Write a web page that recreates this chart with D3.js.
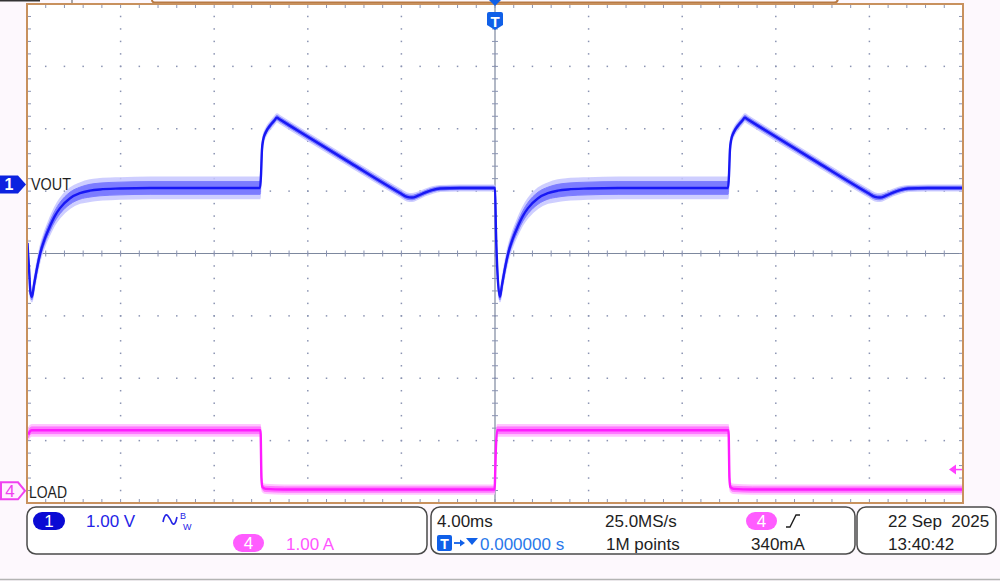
<!DOCTYPE html>
<html><head><meta charset="utf-8">
<script src="https://cdn.jsdelivr.net/npm/d3@7"></script>
<style>
html,body{margin:0;padding:0;background:#fdf8fd;}
svg{display:block;}
text{font-family:"Liberation Sans",Arial,sans-serif;}
</style></head>
<body>
<svg id="c" width="1000" height="581"></svg>
<script>
// ---------- DATA ----------
// time in ms (4 ms/div, trigger at 0)
const voutTime = [-19.98,-19.91,-19.85,-19.79,-19.70,-19.57,-19.44,-19.23,-19.02,-18.80,-18.59,-18.16,-17.74,-17.31,-16.88,-16.03,-14.74,-12.61,-10.04,
  -10.00,-9.96,-9.91,-9.79,-9.62,-9.44,-9.32,-9.19,-8.33,-6.20,-4.06,-3.76,-3.55,-3.29,-2.99,-2.69,-2.35,-1.50,-0.09,
  0.00,0.04,0.11,0.21,0.30,0.43,0.56,0.77,0.98,1.20,1.41,1.84,2.26,2.69,3.12,3.97,5.26,7.39,9.96,
  10.00,10.04,10.09,10.21,10.38,10.56,10.68,10.81,11.67,13.80,15.94,16.24,16.45,16.71,17.01,17.31,17.65,18.50,20.00];
// VOUT in volts relative to the CH1 reference marker (1.00 V/div)
const voutVolts = [-0.94,-1.37,-1.74,-1.80,-1.61,-1.34,-1.11,-0.86,-0.67,-0.50,-0.38,-0.22,-0.14,-0.10,-0.08,-0.065,-0.056,-0.056,-0.056,
  0.15,0.55,0.71,0.84,0.94,1.02,1.07,1.04,0.84,0.35,-0.136,-0.20,-0.21,-0.18,-0.13,-0.09,-0.064,-0.056,-0.056,
  -0.06,-0.73,-1.45,-1.80,-1.61,-1.34,-1.11,-0.86,-0.67,-0.50,-0.38,-0.22,-0.14,-0.10,-0.08,-0.065,-0.056,-0.056,-0.056,
  0.15,0.55,0.71,0.84,0.94,1.02,1.07,1.04,0.84,0.35,-0.136,-0.20,-0.21,-0.18,-0.13,-0.09,-0.064,-0.056,-0.056];
// half-width of the noise envelope (V)
const voutNoise = [0.06,0.07,0.08,0.08,0.09,0.10,0.11,0.12,0.13,0.14,0.15,0.16,0.16,0.17,0.17,0.17,0.17,0.17,0.17,
  0.06,0.06,0.06,0.06,0.06,0.06,0.06,0.06,0.06,0.06,0.06,0.06,0.06,0.055,0.05,0.05,0.045,0.045,0.045,
  0.045,0.06,0.07,0.08,0.09,0.10,0.11,0.12,0.13,0.14,0.15,0.16,0.16,0.17,0.17,0.17,0.17,0.17,0.17,
  0.06,0.06,0.06,0.06,0.06,0.06,0.06,0.06,0.06,0.06,0.06,0.06,0.06,0.055,0.05,0.05,0.045,0.045,0.045];

const loadTime = [-19.94,-19.88,-19.80,-10.02,-9.98,-9.94,-9.80,-9.00,-0.02,0.04,0.09,0.20,9.98,10.02,10.06,10.20,11.00,20.00];
const loadAmps = [0.90,0.95,0.97,0.97,0.20,0.06,0.03,0.02,0.02,0.70,0.97,0.97,0.97,0.20,0.06,0.03,0.02,0.02];
const loadNoise = [0.08,0.09,0.09,0.09,0.06,0.07,0.07,0.07,0.07,0.06,0.09,0.09,0.09,0.06,0.07,0.07,0.07,0.07];

const ch1Label = "VOUT", ch4Label = "LOAD";
const ch1Scale = "1.00 V", ch4Scale = "1.00 A";
const timeDiv = "4.00ms", sampleRate = "25.0MS/s", recordLen = "1M points";
const trigPos = "0.000000 s", trigLevel = "340mA";
const dateText = "22 Sep  2025", timeText = "13:40:42";
const ch1OffsetDiv = 1.107, ch4OffsetDiv = -3.804, trigLevelA = 0.34;

// ---------- LAYOUT ----------
const svg = d3.select("#c");
const L = 27, R = 963, T = 4, B = 503;
const x = d3.scaleLinear().domain([-20, 20]).range([L, R]);
const yDiv = d3.scaleLinear().domain([-4, 4]).range([B, T]);
const y1 = v => yDiv(v / 1.0 + ch1OffsetDiv);
const y4 = a => yDiv(a / 1.0 + ch4OffsetDiv);

// top cut-off strip
svg.append("path").attr("d","M152,-6 V0 Q152,2.5 156,2.5 H834 Q838,2.5 838,-2 V-6").attr("fill","none").attr("stroke","#b87a44").attr("stroke-width",2);
svg.append("line").attr("x1",72).attr("x2",72).attr("y1",0).attr("y2",3).attr("stroke","#555");
svg.append("rect").attr("x",0).attr("y",0).attr("width",40).attr("height",1.5).attr("fill","#333");

// plot background
svg.append("rect").attr("x",L).attr("y",T).attr("width",R-L).attr("height",B-T).attr("fill","#ffffff");

const g = svg.append("g");
const gridCol = "#8a93b2";
const divW = (R-L)/10, divH = (B-T)/8;
// dotted gridlines
for (let k = 1; k < 10; k++) {
  if (k === 5) continue;
  const gx = L + k*divW;
  for (let m = 1; m < 40; m++) {
    const gy = T + m*divH/5;
    g.append("rect").attr("x",gx-0.75).attr("y",gy-0.75).attr("width",1.5).attr("height",1.5).attr("fill",gridCol);
  }
}
for (let k = 1; k < 8; k++) {
  if (k === 4) continue;
  const gy = T + k*divH;
  for (let m = 1; m < 50; m++) {
    const gx = L + m*divW/5;
    g.append("rect").attr("x",gx-0.75).attr("y",gy-0.75).attr("width",1.5).attr("height",1.5).attr("fill",gridCol);
  }
}
// center lines with ticks
const cx = x(0), cy = yDiv(0);
g.append("line").attr("x1",L).attr("x2",R).attr("y1",cy).attr("y2",cy).attr("stroke","#7d889e").attr("stroke-width",1.2);
g.append("line").attr("x1",cx).attr("x2",cx).attr("y1",T).attr("y2",B).attr("stroke","#7d889e").attr("stroke-width",1.2);
for (let m = 1; m < 50; m++) {
  const gx = L + m*divW/5;
  g.append("line").attr("x1",gx).attr("x2",gx).attr("y1",cy-3).attr("y2",cy+3).attr("stroke",gridCol).attr("stroke-width",1);
  g.append("line").attr("x1",gx).attr("x2",gx).attr("y1",T+1).attr("y2",T+4).attr("stroke",gridCol).attr("stroke-width",1);
  g.append("line").attr("x1",gx).attr("x2",gx).attr("y1",B-4).attr("y2",B-1).attr("stroke",gridCol).attr("stroke-width",1);
}
for (let m = 1; m < 40; m++) {
  const gy = T + m*divH/5;
  g.append("line").attr("x1",cx-3).attr("x2",cx+3).attr("y1",gy).attr("y2",gy).attr("stroke",gridCol).attr("stroke-width",1);
  g.append("line").attr("x1",L+1).attr("x2",L+4).attr("y1",gy).attr("y2",gy).attr("stroke",gridCol).attr("stroke-width",1);
  g.append("line").attr("x1",R-4).attr("x2",R-1).attr("y1",gy).attr("y2",gy).attr("stroke",gridCol).attr("stroke-width",1);
}

// ---------- TRACES ----------
svg.append("clipPath").attr("id","pc").append("rect").attr("x",L).attr("y",T).attr("width",R-L).attr("height",B-T);
const tg = svg.append("g").attr("clip-path","url(#pc)");

function drawTrace(ts, vs, ns, yf, cols) {
  const pts = ts.map((t,i)=>({t, v:vs[i], n:ns[i]}));
  const areaF = f => d3.area().x(d=>x(d.t)).y0(d=>yf(d.v - d.n*f)).y1(d=>yf(d.v + d.n*f)).curve(d3.curveMonotoneX);
  tg.append("path").datum(pts).attr("d",areaF(1.0)).attr("fill",cols[0]).attr("stroke",cols[0]).attr("stroke-width",1.5).attr("opacity",0.85);
  tg.append("path").datum(pts).attr("d",areaF(0.6)).attr("fill",cols[1]).attr("stroke",cols[1]).attr("stroke-width",1);
  tg.append("path").datum(pts).attr("d",d3.line().x(d=>x(d.t)).y(d=>yf(d.v)).curve(d3.curveMonotoneX))
    .attr("fill","none").attr("stroke",cols[2]).attr("stroke-width",2.4);
}
drawTrace(loadTime, loadAmps, loadNoise, y4, ["#ffbdff","#ff78ff","#ff1cff"]);
drawTrace(voutTime, voutVolts, voutNoise, y1, ["#c6c6ff","#7c7cff","#1818f4"]);

// border
svg.append("rect").attr("x",L).attr("y",T).attr("width",R-L).attr("height",B-T).attr("fill","none").attr("stroke","#c8915e").attr("stroke-width",2);

// ---------- MARKERS ----------
const m1y = y1(0);
svg.append("path").attr("d",`M0,${m1y-9} H18 L26,${m1y} L18,${m1y+9} H0 Z`).attr("fill","#0c22e0");
svg.append("text").attr("x",9).attr("y",m1y+6).attr("text-anchor","middle").attr("fill","#fff").attr("font-size",16).attr("font-weight","bold").text("1");
svg.append("text").attr("x",31).attr("y",m1y+5.5).attr("fill","#1e1e1e").attr("font-size",17).attr("textLength",40).attr("lengthAdjust","spacingAndGlyphs").text(ch1Label);
const m4y = y4(0);
svg.append("path").attr("d",`M1,${m4y-8.5} H18 L25,${m4y} L18,${m4y+8.5} H1 Z`).attr("fill","#fff0ff").attr("stroke","#f040f0").attr("stroke-width",2);
svg.append("text").attr("x",10).attr("y",m4y+6.5).attr("text-anchor","middle").attr("fill","#f040f0").attr("font-size",17).text("4");
svg.append("text").attr("x",29).attr("y",m4y+7).attr("fill","#1e1e1e").attr("font-size",17).attr("textLength",38).attr("lengthAdjust","spacingAndGlyphs").text(ch4Label);
// trigger position marker
svg.append("path").attr("d",`M${cx-6},0 H${cx+6} L${cx},6 Z`).attr("fill","#1060e8");
svg.append("path").attr("d",`M${cx-8},14 Q${cx-8},12 ${cx-6},12 H${cx+6} Q${cx+8},12 ${cx+8},14 V25 L${cx},30 L${cx-8},25 Z`).attr("fill","#1060e8");
svg.append("text").attr("x",cx).attr("y",27).attr("text-anchor","middle").attr("fill","#fff").attr("font-size",15).attr("font-weight","bold").text("T");
// trigger level arrow
const tly = y4(trigLevelA);
svg.append("path").attr("d",`M949,${tly} L956,${tly-5} L956,${tly+5} Z`).attr("fill","#ff40ff");
svg.append("line").attr("x1",955).attr("x2",962).attr("y1",tly).attr("y2",tly).attr("stroke","#ff40ff").attr("stroke-width",1.5);

// ---------- STATUS BAR ----------
const boxes = [[27,507,400,47],[431,507,424,47],[857,507,139,47]];
boxes.forEach(b=>svg.append("rect").attr("x",b[0]).attr("y",b[1]).attr("width",b[2]).attr("height",b[3]).attr("rx",9).attr("fill","#fff").attr("stroke","#4a4a4a").attr("stroke-width",1.5));
function badge(x0,y0,w,h,fill,label){
  svg.append("rect").attr("x",x0).attr("y",y0).attr("width",w).attr("height",h).attr("rx",h/2).attr("fill",fill);
  svg.append("text").attr("x",x0+w/2).attr("y",y0+h-3.5).attr("text-anchor","middle").attr("fill","#fff").attr("font-size",17).text(label);
}
badge(33,512,32,18,"#0a0ad4","1");
svg.append("text").attr("x",86).attr("y",527).attr("fill","#2424e6").attr("font-size",17).text(ch1Scale);
svg.append("path").attr("d","M163,522 Q165,512 168,516 T172,523 Q175,527 177,517").attr("fill","none").attr("stroke","#2424e6").attr("stroke-width",1.6);
svg.append("text").attr("x",180).attr("y",519).attr("fill","#2424e6").attr("font-size",9).text("B");
svg.append("text").attr("x",183).attr("y",530).attr("fill","#2424e6").attr("font-size",9).text("W");
badge(233,534,31,18,"#ff5cff","4");
svg.append("text").attr("x",286).attr("y",550).attr("fill","#ff55ff").attr("font-size",17).text(ch4Scale);

svg.append("text").attr("x",437).attr("y",527).attr("fill","#1e1e1e").attr("font-size",17).text(timeDiv);
svg.append("text").attr("x",605).attr("y",527).attr("fill","#1e1e1e").attr("font-size",17).text(sampleRate);
badge(746,512,31,18,"#ff5cff","4");
svg.append("path").attr("d","M786,527 H790 L796,515 H800").attr("fill","none").attr("stroke","#1e1e1e").attr("stroke-width",1.4);
svg.append("rect").attr("x",437).attr("y",535).attr("width",15).attr("height",16).attr("rx",2).attr("fill","#1060e8");
svg.append("text").attr("x",444.5).attr("y",549).attr("text-anchor","middle").attr("fill","#fff").attr("font-size",14).attr("font-weight","bold").text("T");
svg.append("path").attr("d","M454,543 H462").attr("stroke","#1060e8").attr("stroke-width",1.8);
svg.append("path").attr("d","M460,539.5 L465,543 L460,546.5 Z").attr("fill","#1060e8");
svg.append("path").attr("d","M466,538 H478 L472,545 Z").attr("fill","#1060e8");
svg.append("text").attr("x",480).attr("y",550).attr("fill","#2a78ea").attr("font-size",17).text(trigPos);
svg.append("text").attr("x",606).attr("y",550).attr("fill","#1e1e1e").attr("font-size",17).text(recordLen);
svg.append("text").attr("x",751).attr("y",550).attr("fill","#1e1e1e").attr("font-size",17).text(trigLevel);

svg.append("text").attr("x",888).attr("y",527).attr("fill","#1e1e1e").attr("font-size",17).style("white-space","pre").text(dateText);
svg.append("text").attr("x",888).attr("y",550).attr("fill","#1e1e1e").attr("font-size",17).text(timeText);

// bottom line
svg.append("line").attr("x1",0).attr("x2",1000).attr("y1",579.5).attr("y2",579.5).attr("stroke","#b4b4b4").attr("stroke-width",1.5);
</script>
</body></html>
